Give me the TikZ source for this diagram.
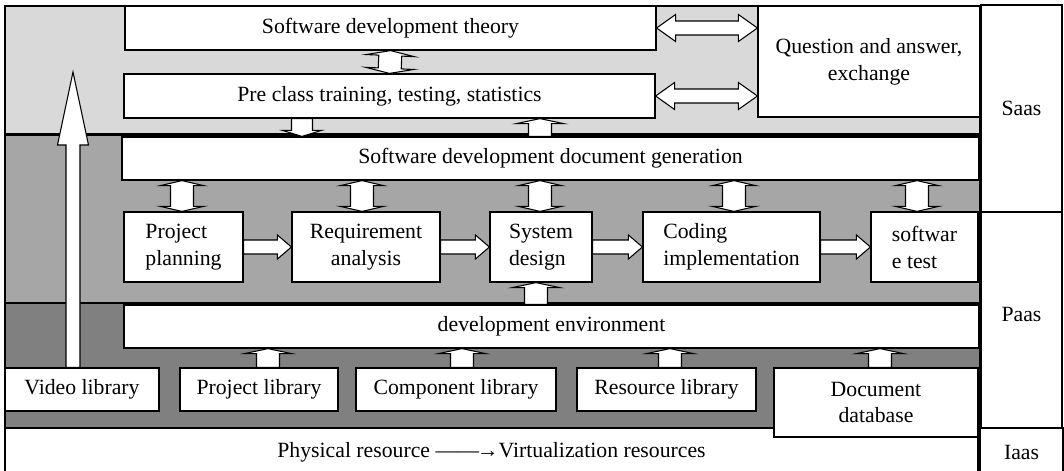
\documentclass[tikz,border=0pt]{standalone}
\usepackage{fontspec}
\setmainfont{Liberation Serif}
\usetikzlibrary{calc}

\definecolor{saasgray}{RGB}{217,217,217}
\definecolor{paasgray}{RGB}{166,166,166}
\definecolor{iaasgray}{RGB}{128,128,128}

\tikzset{
  box/.style={draw, fill=white, line width=0.9pt, inner sep=0pt, align=center},
  lbox/.style={box, align=left},
  layer/.style={draw, line width=0.9pt},
  % box from its corners {x1}{y1}{x2}{y2}, in px
  span/.style n args={4}{minimum width={(#3-#1)*.75pt}, minimum height={(#4-#2)*.75pt},
    at={({(#1+#3)/2},{(#2+#4)/2})}},
  rot/.style={shift={(\p1)}, rotate=\n1},
  % block arrow: {shaft half width}{head half width}{head length}, in px
  sblk/.style n args={3}{draw, fill=white, line width=0.8pt,
    to path={let \p1=(\tikztostart), \p2=(\tikztotarget),
      \n1={atan2(\y2-\y1,\x2-\x1)}, \n2={veclen(\x2-\x1,\y2-\y1)} in
      ([rot]0pt,#1*.75pt) -- ([rot]\n2-#3*.75pt,#1*.75pt) -- ([rot]\n2-#3*.75pt,#2*.75pt)
      -- ([rot]\n2,0pt) -- ([rot]\n2-#3*.75pt,-#2*.75pt) -- ([rot]\n2-#3*.75pt,-#1*.75pt)
      -- ([rot]0pt,-#1*.75pt) -- cycle}},
  dblk/.style n args={3}{draw, fill=white, line width=0.8pt,
    to path={let \p1=(\tikztostart), \p2=(\tikztotarget),
      \n1={atan2(\y2-\y1,\x2-\x1)}, \n2={veclen(\x2-\x1,\y2-\y1)} in
      ([rot]0pt,0pt) -- ([rot]#3*.75pt,#2*.75pt) -- ([rot]#3*.75pt,#1*.75pt)
      -- ([rot]\n2-#3*.75pt,#1*.75pt) -- ([rot]\n2-#3*.75pt,#2*.75pt) -- ([rot]\n2,0pt)
      -- ([rot]\n2-#3*.75pt,-#2*.75pt) -- ([rot]\n2-#3*.75pt,-#1*.75pt)
      -- ([rot]#3*.75pt,-#1*.75pt) -- ([rot]#3*.75pt,-#2*.75pt) -- cycle}}
}

\begin{document}
\begin{tikzpicture}[x=0.75pt, y=-0.75pt, font=\fontsize{16.3}{20.2}\selectfont]
  \useasboundingbox (0,0) rectangle (1064,471);
  % layers
  \draw[layer, fill=saasgray] (5,6) rectangle (980,134);
  \draw[layer, fill=paasgray] (5,135) rectangle (980,303);
  \draw[layer, fill=iaasgray] (5,303) rectangle (980,428);

  \node[box, span={5}{428}{978}{476}] (phys) {Physical resource ——\kern-1.5pt→Virtualization resources};
  \node[box, span={981}{5}{1062}{212}] (saas) {Saas};
  \node[box, span={981}{212}{1062}{428}, text depth=9pt] (paas) {Paas};
  \node[box, span={980}{428}{1063}{476}] (iaas) {Iaas};

  \node[box, span={125}{6}{656}{50}] (theory) {Software development theory};
  \node[box, span={124}{74}{655}{118}] (pre) {Pre class training, testing, statistics};
  \node[box, span={758}{6}{980}{117}] (qa) {Question and answer,\\exchange};

  \node[box, span={122}{137}{979}{180}] (docgen) {Software development document generation};
  \node[lbox, span={124}{212}{243}{282}] (pp) {Project\\planning};
  \node[box, span={292}{212}{440}{282}] (ra) {Requirement\\analysis};
  \node[lbox, span={490}{212}{592}{282}] (sd) {System\\design};
  \node[lbox, span={643}{212}{820}{282}] (ci) {Coding\\implementation};
  \node[lbox, span={871}{212}{978}{282}] (st) {softwar\\e test};

  \node[box, span={124}{305}{979}{348}] (devenv) {development environment};
  \node[box, span={5}{368}{159}{411}] (vl) {Video library};
  \node[box, span={180}{368}{338}{411}] (pl) {Project library};
  \node[box, span={356}{368}{556}{411}] (cl) {Component library};
  \node[box, span={577}{368}{756}{411}] (rl) {Resource library};
  \node[box, span={774}{368}{978}{437}] (dd) {Document\\database};

  % arrows
  \draw[dblk={7}{13.5}{19}] (theory.east) to (qa.west |- theory.east);
  \draw[dblk={7}{13.5}{19}] (pre.east) to (qa.west |- pre.east);
  \draw[dblk={11.5}{24}{5}] (theory.south) to (pre.north);
  \draw[sblk={10.5}{19.5}{6}] (pre.south -| 302,0) to (docgen.north -| 302,0);
  \draw[sblk={11.5}{23.5}{5}] (docgen.north -| 540,0) to (pre.south -| 540,0);
  \foreach \px/\b in {182/pp, 362/ra, 540/sd, 734/ci, 917/st}
    \draw[dblk={11.5}{21.5}{5}] (docgen.south -| \px,0) to (\b.north -| \px,0);
  \foreach \a/\b in {pp/ra, ra/sd, sd/ci, ci/st}
    \draw[sblk={7}{12}{14}] (\a.east) to (\b.west);
  \draw[sblk={11.5}{23.5}{5}] (devenv.north -| 536,0) to (sd.south -| 536,0);
  \foreach \px/\b in {268/pl, 462/cl, 670/rl, 880/dd}
    \draw[sblk={11.5}{23.5}{5}] (\b.north -| \px,0) to (devenv.south -| \px,0);
  \coordinate (vtop) at (73,72);
  \draw[sblk={7}{15.5}{73}] (vl.north -| 73,0) to (vtop);
\end{tikzpicture}
\end{document}
